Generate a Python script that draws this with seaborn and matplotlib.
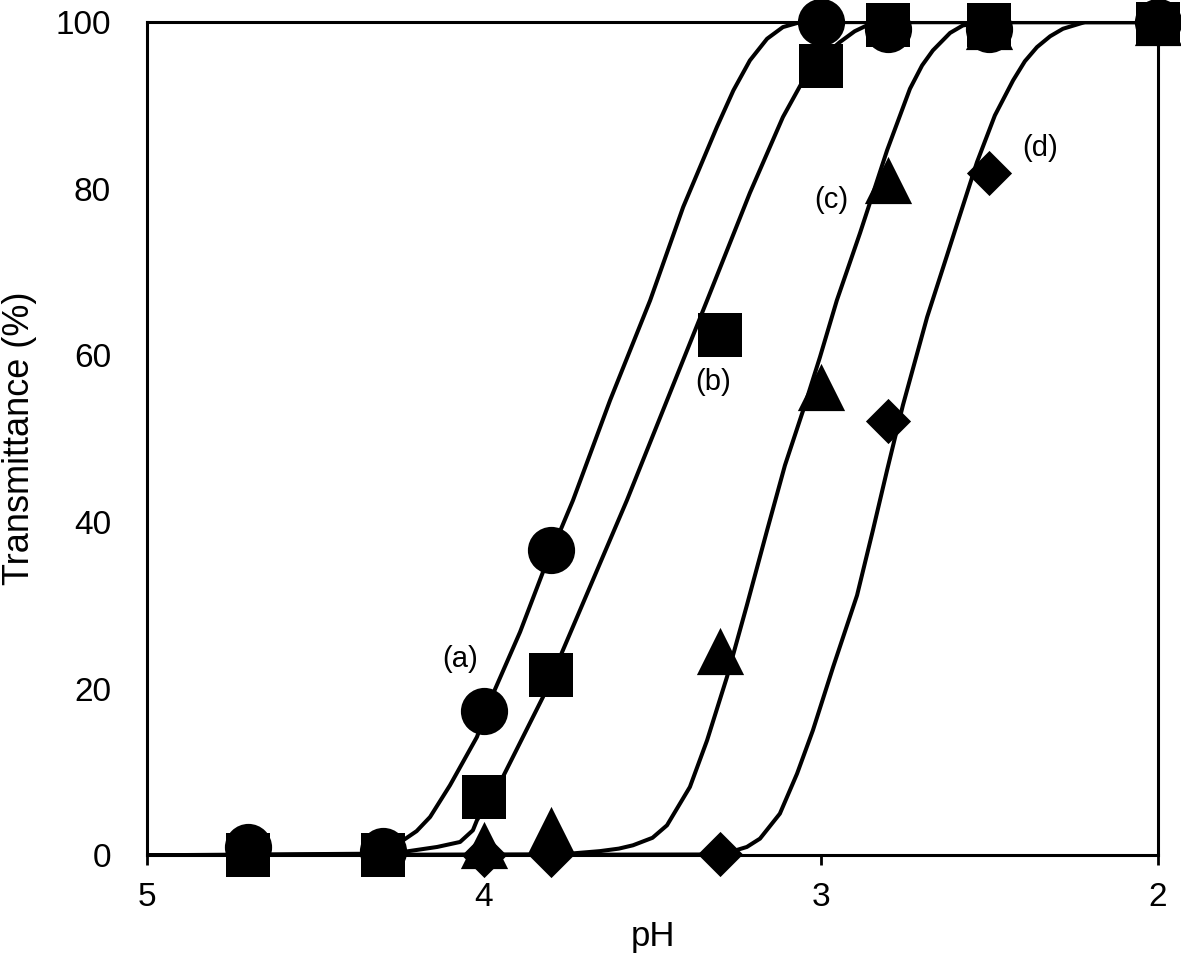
import matplotlib
matplotlib.use("Agg")
import matplotlib.pyplot as plt
import seaborn as sns

sns.set_style("white")
plt.rcParams['font.family'] = ['Liberation Sans', 'DejaVu Sans']
plt.rcParams.update({'text.color': 'black', 'axes.labelcolor': 'black',
                     'xtick.color': 'black', 'ytick.color': 'black'})

# measured points (pH, transmittance %)
ph_a = [4.7, 4.3, 4.0, 3.8, 3.0, 2.8, 2.5, 2.0]
tr_a = [1.0, 0.5, 17.3, 36.7, 100, 99.2, 99.2, 100]
ph_b = [4.7, 4.3, 4.0, 3.8, 3.3, 3.0, 2.8, 2.5, 2.0]
tr_b = [0, 0, 7.0, 21.6, 62.4, 94.7, 99.6, 99.6, 99.8]
ph_c = [4.0, 3.8, 3.3, 3.0, 2.8, 2.5, 2.0]
tr_c = [1.2, 3.0, 24.5, 56.2, 81.0, 99.5, 100]
ph_d = [4.0, 3.8, 3.3, 2.8, 2.5, 2.0]
tr_d = [0, 0, 0.2, 52.1, 81.9, 100]

# fitted curves
fit_ph_a = [5.0, 4.306, 4.270, 4.240, 4.200, 4.160, 4.101, 4.021, 3.973, 3.893, 3.825, 3.736, 3.626,
            3.507, 3.409, 3.309, 3.260, 3.211, 3.160, 3.113, 3.070, 3.033, 2.0]
fit_tr_a = [0, 0.2, 0.8, 1.8, 2.9, 4.6, 8.4, 14.2, 19.4, 26.8, 34.0, 42.6, 54.6,
            66.6, 77.8, 87.4, 91.8, 95.4, 98.0, 99.4, 99.9, 100, 100]
fit_ph_b = [5.0, 4.306, 4.240, 4.139, 4.071, 4.033, 4.021, 3.944, 3.825, 3.766, 3.576,
            3.457, 3.338, 3.211, 3.113, 3.053, 2.990, 2.944, 2.900, 2.864, 2.795, 2.0]
fit_tr_b = [0, 0.1, 0.4, 1.0, 1.6, 3.0, 4.2, 9.4, 19.0, 24.6, 42.6,
            54.6, 66.6, 79.5, 88.6, 93.0, 96.0, 97.6, 98.9, 99.6, 100, 100]
fit_ph_c = [5.0, 3.774, 3.656, 3.600, 3.558, 3.500, 3.457, 3.389, 3.338, 3.279, 3.220, 3.160, 3.107,
            3.053, 3.003, 2.953, 2.884, 2.804, 2.736, 2.700, 2.668, 2.617, 2.579, 2.513, 2.0]
fit_tr_c = [0, 0.1, 0.5, 0.8, 1.2, 2.1, 3.6, 8.2, 13.8, 21.4, 30.0, 39.0, 46.8,
            53.4, 59.8, 66.6, 74.7, 84.6, 92.0, 94.8, 96.6, 98.7, 99.6, 100, 100]
fit_ph_d = [5.0, 3.300, 3.261, 3.220, 3.181, 3.122, 3.071, 3.024, 2.964, 2.893, 2.846, 2.804,
            2.757, 2.685, 2.626, 2.588, 2.537, 2.484, 2.430, 2.395, 2.359, 2.320, 2.282, 2.217, 2.0]
fit_tr_d = [0, 0.1, 0.5, 1.0, 2.0, 5.0, 9.8, 15.0, 22.6, 31.2, 39.0, 46.2,
            54.0, 64.6, 72.0, 76.8, 83.2, 88.8, 93.0, 95.3, 97.0, 98.3, 99.2, 100, 100]

labels = ['(a)', '(b)', '(c)', '(d)']
label_ph = [4.07, 3.32, 2.97, 2.35]
label_tr = [23.6, 56.8, 78.6, 84.9]

fig, ax = plt.subplots(figsize=(11.81, 9.61), dpi=100)
fig.subplots_adjust(left=0.1245, right=0.9805, top=0.977, bottom=0.110)

for fx, fy in [(fit_ph_a, fit_tr_a), (fit_ph_b, fit_tr_b), (fit_ph_c, fit_tr_c), (fit_ph_d, fit_tr_d)]:
    sns.lineplot(x=fx, y=fy, sort=False, color='black', linewidth=2.9, ax=ax, zorder=2)

sns.scatterplot(x=ph_a, y=tr_a, marker='o', s=34**2, color='black', linewidth=0, ax=ax, zorder=3, clip_on=False)
sns.scatterplot(x=ph_c, y=tr_c, marker='^', s=34**2, color='black', linewidth=0, ax=ax, zorder=4, clip_on=False)
sns.scatterplot(x=ph_d, y=tr_d, marker='D', s=23**2, color='black', linewidth=0, ax=ax, zorder=5, clip_on=False)
sns.scatterplot(x=ph_b, y=tr_b, marker='s', s=31**2, color='black', linewidth=0, ax=ax, zorder=6, clip_on=False)

for lab, x, y in zip(labels, label_ph, label_tr):
    ax.text(x, y, lab, fontsize=21, ha='center', va='center')

ax.set_xlim(5, 2)
ax.set_ylim(0, 100)
ax.set_xticks([5, 4, 3, 2])
ax.set_yticks([0, 20, 40, 60, 80, 100])
ax.set_xlabel('pH', fontsize=25, labelpad=5)
ax.set_ylabel('Transmittance (%)', fontsize=26, labelpad=13)
ax.tick_params(axis='x', direction='out', length=7, width=2, pad=12, labelsize=24, bottom=True)
ax.tick_params(axis='y', length=0, pad=26, labelsize=24)
for sp in ax.spines.values():
    sp.set_linewidth(2.2)
    sp.set_color('black')

plt.savefig('out.png', dpi=100)
